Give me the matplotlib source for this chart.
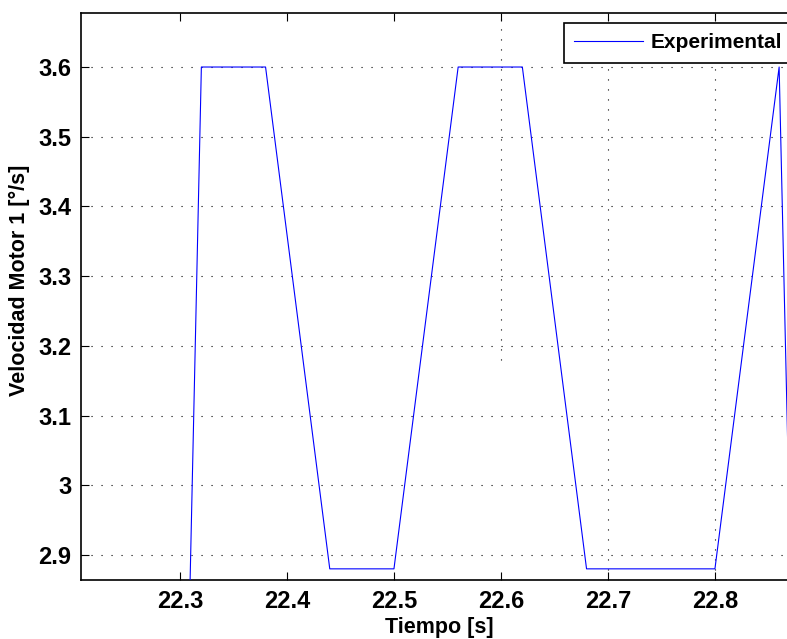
import matplotlib
matplotlib.use("Agg")
import matplotlib.pyplot as plt

# velocidad motor 1, esquinas de la senal medida
tiempo = [22.30, 22.32, 22.38, 22.44, 22.50, 22.56, 22.62, 22.68, 22.80, 22.86, 22.88]
velocidad = [2.20, 3.60, 3.60, 2.88, 2.88, 3.60, 3.60, 2.88, 2.88, 3.60, 2.25]

xticks = [22.3, 22.4, 22.5, 22.6, 22.7, 22.8]
yticks = [2.9, 3.0, 3.1, 3.2, 3.3, 3.4, 3.5, 3.6]
ytick_labels = ["2.9", "3", "3.1", "3.2", "3.3", "3.4", "3.5", "3.6"]

plt.rcParams['font.family'] = ['Liberation Sans', 'DejaVu Sans']
plt.rcParams['font.weight'] = 'bold'

fig = plt.figure(figsize=(7.87, 6.39), dpi=100)
ax = fig.add_axes([81 / 787, 59 / 639, 716 / 787, 567 / 639])

ax.plot(tiempo, velocidad, color=(0, 0, 1), lw=0.8, label="Experimental", zorder=3)

ax.set_xlim(22.2075, 22.8767)
ax.set_ylim(2.864, 3.6775)
ax.set_xticks(xticks)
ax.set_yticks(yticks)
ax.set_yticklabels(ytick_labels)

# rejilla punteada estilo matlab
grid_kw = dict(color='k', lw=0.8, dashes=(1, 8), zorder=1)
ax.yaxis.grid(True, **grid_kw)
ax.axvline(22.6, ymin=0.388, ymax=1, **grid_kw)
ax.axvline(22.7, **grid_kw)
ax.axvline(22.8, **grid_kw)

ax.tick_params(direction='in', length=6, width=0.8, top=True, right=False,
               labelsize=17, pad=7)
for lab in ax.get_xticklabels() + ax.get_yticklabels():
    lab.set_fontweight('bold')
for s in ax.spines.values():
    s.set_linewidth(1.2)

ax.set_xlabel("Tiempo [s]", fontsize=15.5, fontweight='bold', labelpad=3)
ax.set_ylabel("Velocidad Motor 1 [°/s]", fontsize=15.5, fontweight='bold',
              labelpad=6, y=0.529)

leg = ax.legend(loc='upper left', bbox_to_anchor=(564 / 787, 1 - 23 / 639),
                bbox_transform=fig.transFigure, borderaxespad=0, fancybox=False,
                framealpha=1, edgecolor='k', prop={'size': 15, 'weight': 'bold'},
                handlelength=3.3, handletextpad=0.35, borderpad=0.5)
leg.get_frame().set_linewidth(1.2)

fig.savefig("out.png", dpi=100)
